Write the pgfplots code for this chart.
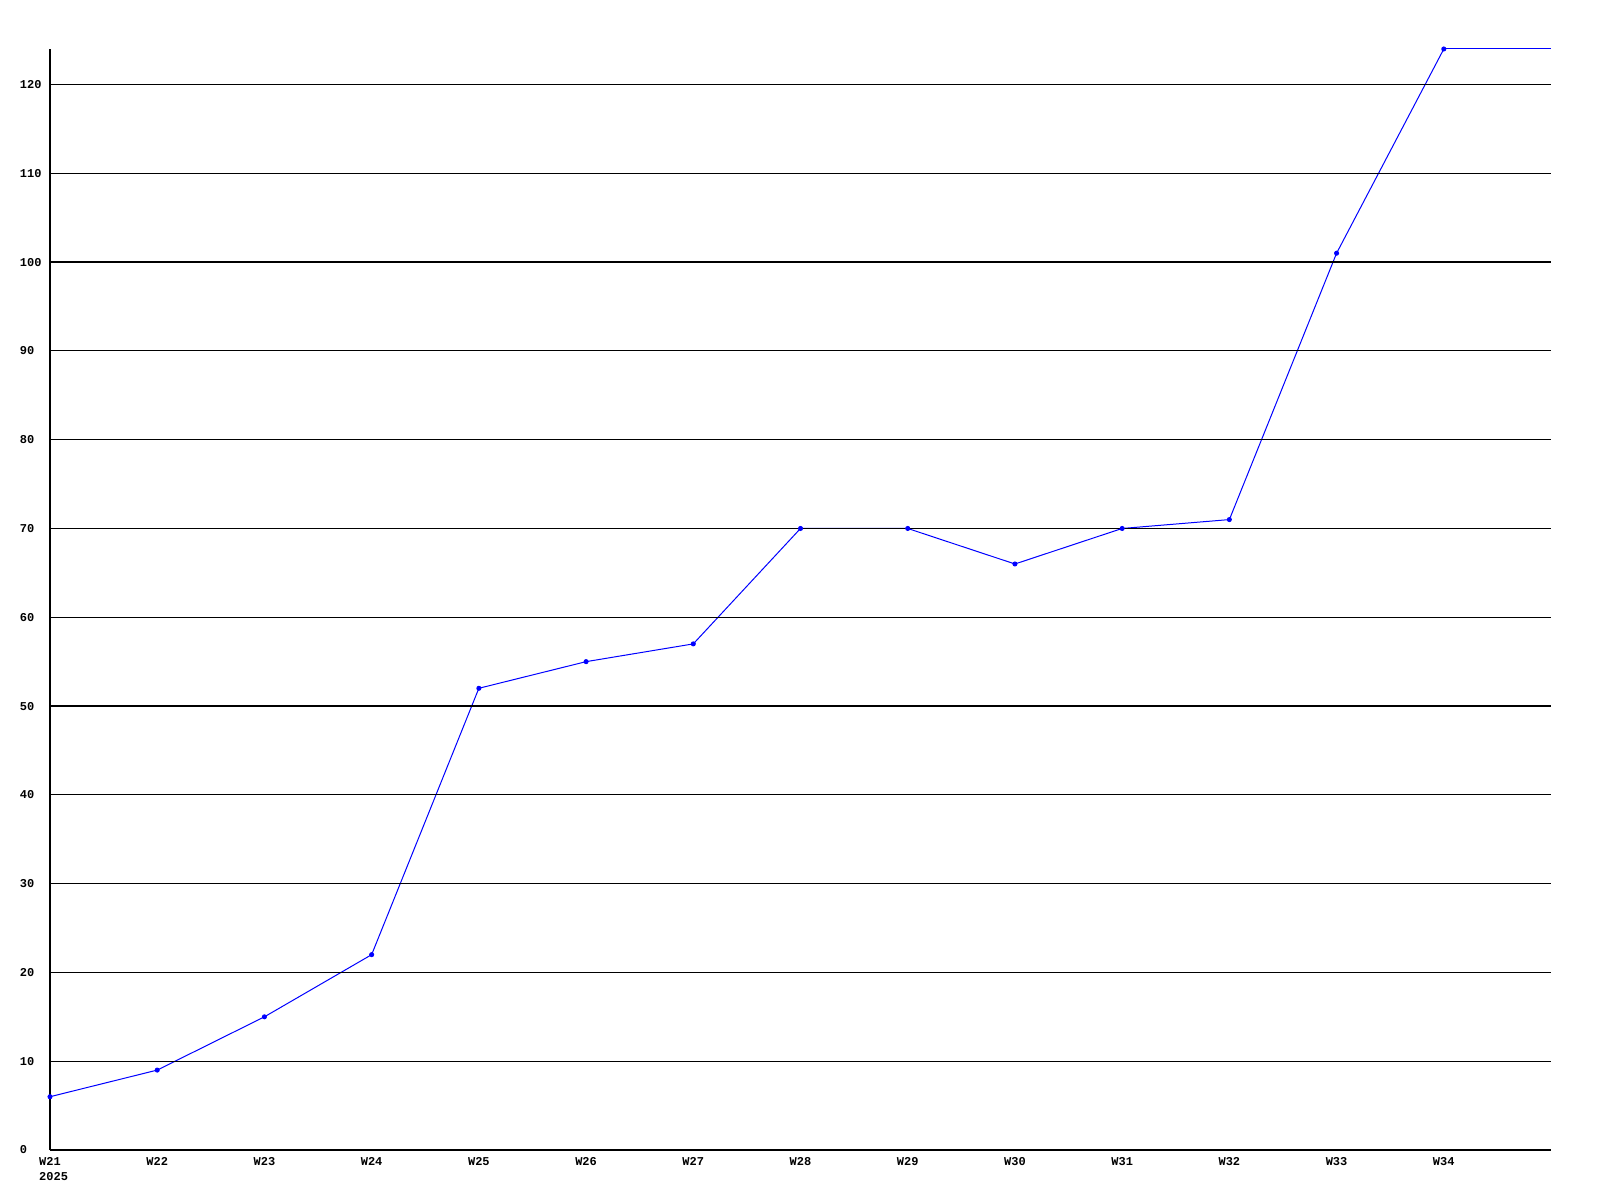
\documentclass[border=0pt]{standalone}
\usepackage{fontspec}
\setmainfont{Liberation Mono}
\usepackage{pgfplots}
\pgfplotsset{compat=1.18}
\begin{document}
\begin{tikzpicture}
\path[use as bounding box] (0,0) rectangle (800pt,600pt);
\begin{axis}[
  at={(25pt,25pt)}, anchor=south west,
  scale only axis, width=750.5pt, height=550.5pt,
  xmin=0, xmax=14, ymin=0, ymax=124,
  axis x line*=bottom, axis y line*=left,
  axis line style={black, line width=0.6pt, -},
  axis on top,
  ytick={0,10,...,120},
  xtick={0,1,...,13},
  xticklabels={{W21\\\rlap{2025}},W22,W23,W24,W25,W26,W27,W28,W29,W30,W31,W32,W33,W34},
  major tick length=0pt,
  ymajorgrids, grid style={black, line width=0.6pt},
  /pgf/number format/assume math mode=true,
  tick label style={font=\fontsize{6}{7.5}\selectfont\bfseries},
  xticklabel style={align=left, anchor=north, yshift=0pt},
  yticklabel style={anchor=west, xshift=-18.6pt},
]
\addplot[blue, line width=0.5pt, mark=*, mark size=1pt] coordinates {
(0,6) (1,9) (2,15) (3,22) (4,52) (5,55) (6,57) (7,70) (8,70) (9,66) (10,70) (11,71) (12,101) (13,124)
};
\addplot[blue, line width=0.5pt, mark=none] coordinates {(13,124) (14,124)};
\end{axis}
\end{tikzpicture}
\end{document}
